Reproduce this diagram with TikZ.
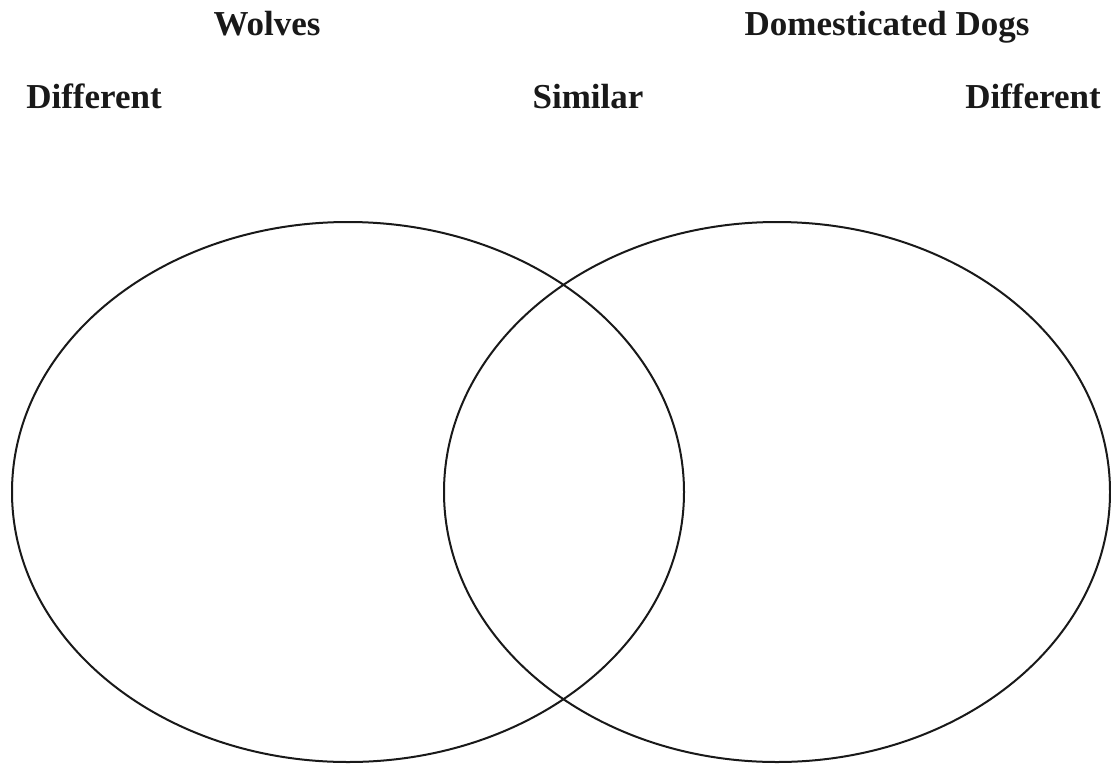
\documentclass[tikz,border=0pt]{standalone}
\usepackage{fontspec}
\setmainfont{Liberation Serif}
\begin{document}
\begin{tikzpicture}[x=1pt,y=-1pt,
  lbl/.style={anchor=base,inner sep=0pt,font=\fontsize{35}{40}\selectfont\bfseries,text=black!90},
  set/.style={draw=black!90,line width=2pt}]
\useasboundingbox (0,0) rectangle (1111,766);
\node[lbl] (wolves) at (267,35) {Wolves};
\node[lbl] (dogs) at (887,35) {Domesticated Dogs};
\node[lbl] (diffL) at (94,108) {Different};
\node[lbl] (sim) at (588,108) {Similar};
\node[lbl] (diffR) at (1033,108) {Different};
\draw[set] (348,492) ellipse [x radius=336, y radius=270];
\draw[set] (777,492) ellipse [x radius=333, y radius=270];
\end{tikzpicture}
\end{document}
